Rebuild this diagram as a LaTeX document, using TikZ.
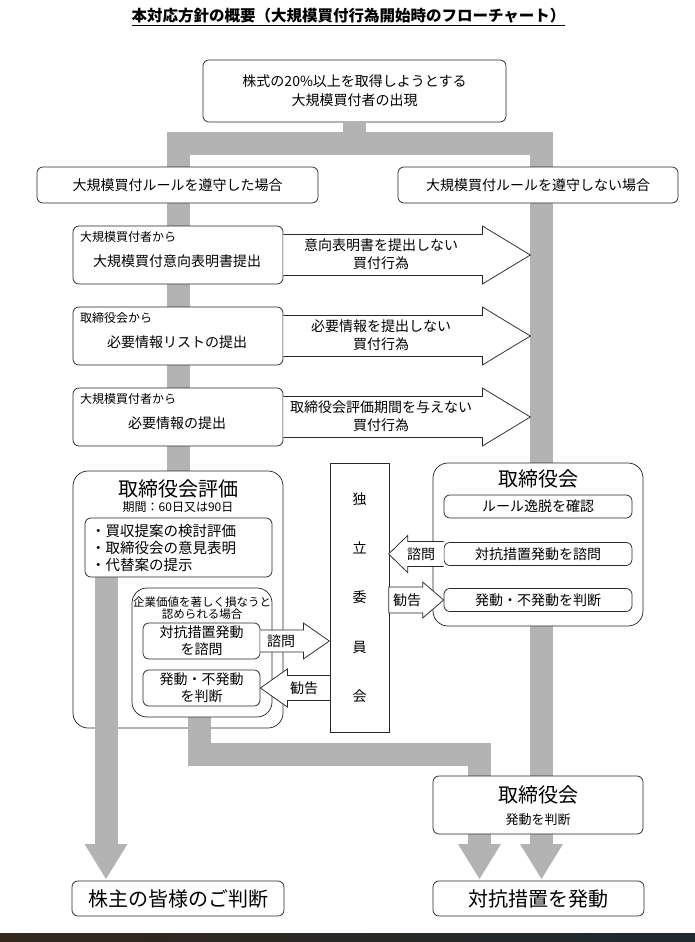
\documentclass[tikz,border=0pt]{standalone}
\usepackage{fontspec}
\setmainfont{Noto Sans CJK JP}
\usetikzlibrary{shapes.geometric}
\definecolor{flowgray}{RGB}{179,179,179}
\definecolor{linegray}{RGB}{40,40,40}
\definecolor{stripL}{RGB}{52,40,30}
\definecolor{stripR}{RGB}{30,42,46}
\tikzstyle{box} = [rectangle, rounded corners=6pt, draw=linegray, line width=0.75pt, fill=white, inner sep=0pt]
\tikzstyle{panel} = [box, rounded corners=15pt]
\tikzstyle{plainbox} = [rectangle, draw=linegray, line width=0.75pt, fill=white, inner sep=0pt]
\tikzstyle{blockarrow} = [draw=linegray, line width=0.75pt, fill=white, line join=miter]
\tikzstyle{flow} = [draw=flowgray, line width=23pt]
\tikzstyle{txt} = [inner sep=0pt, align=center, font=\fontsize{14}{19}\selectfont]
\tikzstyle{small} = [inner sep=0pt, font=\fontsize{12}{14}\selectfont]
\tikzstyle{bigtext} = [inner sep=0pt, font=\fontsize{20}{24}\selectfont]
\tikzstyle{title} = [inner sep=0pt, font=\bfseries\fontsize{15.5}{18}\selectfont]

\begin{document}
\begin{tikzpicture}[x=1pt,y=-1pt]
        \useasboundingbox (0,0) rectangle (695,942);
        \node [title] at (348.5,17) (title) {\underline{本対応方針の概要（大規模買付行為開始時のフローチャート）}};
        \node [box, txt, minimum width=303pt, minimum height=62pt] at (354.5,91) (top) {株式の20\%以上を取得しようとする\\大規模買付者の出現};

        % gray flow lines
        \coordinate (split) at (354.5,143.5);
        \coordinate (leftTop) at (178.5,143.5);
        \coordinate (rightTop) at (541.5,143.5);
        \coordinate (leftEnd) at (178.5,480);
        \coordinate (rightEnd) at (541.5,845);
        \draw [flow] (top.south) -- (split);
        \draw [flow] (leftEnd) -- (leftTop) -- (rightTop) -- (rightEnd);
        \fill [flowgray] (520,844) -- (563,844) -- (541.5,879) -- cycle;

        \node [box, txt, minimum width=281pt, minimum height=36pt] at (177.5,185) (keep) {大規模買付ルールを遵守した場合};
        \node [box, txt, minimum width=280pt, minimum height=36pt] at (538,185) (breach) {大規模買付ルールを遵守しない場合};

        % steps under the rule
        \node [box, minimum width=210pt, minimum height=58pt] at (178,255) (intent) {};
        \node [small, anchor=west] at (80,237) (intentby) {大規模買付者から};
        \node [txt] at (177,261) (intenttxt) {大規模買付意向表明書提出};
        \draw [blockarrow] (intent.east) ++(0,-20.5) -- ++(199,0) -- ++(0,-8.5) -- ++(48,29) -- ++(-48,29) -- ++(0,-8.5) -- ++(-199,0);
        \node [txt, font=\fontsize{14}{18}\selectfont] at (381,254) (intentno) {意向表明書を提出しない\\買付行為};

        \node [box, minimum width=210pt, minimum height=58pt] at (178,336) (list) {};
        \node [small, anchor=west] at (80,318) (listby) {取締役会から};
        \node [txt] at (177,342) (listtxt) {必要情報リストの提出};
        \draw [blockarrow] (list.east) ++(0,-20.5) -- ++(199,0) -- ++(0,-8.5) -- ++(48,29) -- ++(-48,29) -- ++(0,-8.5) -- ++(-199,0);
        \node [txt, font=\fontsize{14}{18}\selectfont] at (381,335) (listno) {必要情報を提出しない\\買付行為};

        \node [box, minimum width=210pt, minimum height=58pt] at (178,417) (info) {};
        \node [small, anchor=west] at (80,399) (infoby) {大規模買付者から};
        \node [txt] at (177,423) (infotxt) {必要情報の提出};
        \draw [blockarrow] (info.east) ++(0,-20.5) -- ++(199,0) -- ++(0,-8.5) -- ++(48,29) -- ++(-48,29) -- ++(0,-8.5) -- ++(-199,0);
        \node [txt, font=\fontsize{14}{18}\selectfont] at (381,416) (infono) {取締役会評価期間を与えない\\買付行為};

        % board evaluation
        \node [panel, minimum width=210pt, minimum height=257pt] at (178,599.5) (eval) {};
        \node [bigtext] at (178,489) (evaltitle) {取締役会評価};
        \node [small] at (178,507) (evalterm) {期間：60日又は90日};
        \draw [flow] (106,560) -- (106,845);
        \fill [flowgray] (84.5,844) -- (127.5,844) -- (106,879) -- cycle;
        \draw [flow] (199,700) -- (199,754.5) -- (479.5,754.5) -- (479.5,845);
        \fill [flowgray] (458,844) -- (501,844) -- (479.5,879) -- cycle;
        \node [box, minimum width=187pt, minimum height=59pt] at (178.5,547.5) (review) {};
        \node [txt, align=left, anchor=west, font=\fontsize{14.5}{17}\selectfont] at (91,548) (reviewtxt) {・買収提案の検討評価\\・取締役会の意見表明\\・代替案の提示};
        \node [panel, minimum width=140pt, minimum height=129pt] at (202,652.5) (harm) {};
        \node [txt, font=\fontsize{11.5}{12.5}\selectfont] at (202,608) (harmtxt) {企業価値を著しく損なうと\\認められる場合};
        \node [box, txt, minimum width=117pt, minimum height=36pt, font=\fontsize{14}{17}\selectfont] at (201.5,641) (askL) {対抗措置発動\\を諮問};
        \node [box, txt, minimum width=117pt, minimum height=36pt, font=\fontsize{14}{17}\selectfont] at (201.5,688) (judgeL) {発動・不発動\\を判断};

        % independent committee
        \node [plainbox, minimum width=59pt, minimum height=269pt, align=center, font=\fontsize{14}{49.25}\selectfont] at (359.5,597.5) (committee) {独\\立\\委\\員\\会};
        \draw [blockarrow] (askL.east) ++(0,-11) -- ++(43,0) -- ++(0,-7) -- ++(26,18) -- ++(-26,18) -- ++(0,-7) -- ++(-43,0);
        \node [txt] at (281,641) (askLlbl) {諮問};
        \draw [blockarrow] (judgeL.east) -- ++(27,-19) -- ++(0,6.5) -- ++(43,0) -- ++(0,25) -- ++(-43,0) -- ++(0,6.5) -- cycle;
        \node [txt] at (304,688) (adviseL) {勧告};

        % board (rule not kept)
        \node [panel, minimum width=210pt, minimum height=163pt] at (538,544.5) (board) {};
        \node [bigtext] at (538,479) (boardtitle) {取締役会};
        \node [box, txt, minimum width=188pt, minimum height=23pt] at (538,506.5) (deviate) {ルール逸脱を確認};
        \node [box, txt, minimum width=188pt, minimum height=23pt] at (538,554) (askR) {対抗措置発動を諮問};
        \node [box, txt, minimum width=188pt, minimum height=23pt] at (538,600) (judgeR) {発動・不発動を判断};
        \draw [blockarrow] (askR.west) ++(0,-12.5) -- ++(-36,0) -- ++(0,-6) -- ++(-19,18.5) -- ++(19,18.5) -- ++(0,-6) -- ++(36,0);
        \node [txt] at (421,554) (askRlbl) {諮問};
        \draw [blockarrow] (judgeR.west) -- ++(-21,-18) -- ++(0,5) -- ++(-34,0) -- ++(0,26) -- ++(34,0) -- ++(0,5) -- cycle;
        \node [txt] at (407,600) (adviseR) {勧告};

        % results
        \node [box, minimum width=210pt, minimum height=58pt] at (538,805) (final) {};
        \node [bigtext] at (538,795) (finaltitle) {取締役会};
        \node [txt, font=\fontsize{13}{15}\selectfont] at (538,820) (finaltxt) {発動を判断};
        \node [box, bigtext, minimum width=212pt, minimum height=35pt] at (178,898.5) (holders) {株主の皆様のご判断};
        \node [box, bigtext, minimum width=211pt, minimum height=35pt] at (538.5,898.5) (invoke) {対抗措置を発動};

        \shade [left color=stripL, right color=stripR] (0,933) rectangle (695,942);
\end{tikzpicture}
\end{document}
